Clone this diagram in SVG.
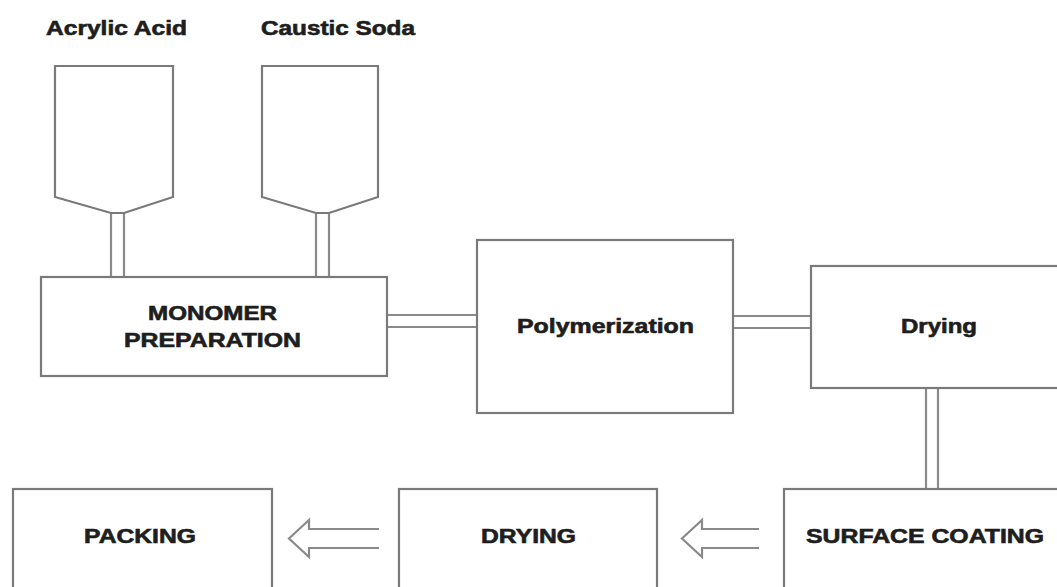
<svg xmlns="http://www.w3.org/2000/svg" width="1057" height="587" viewBox="0 0 1057 587">
<style>
.box{fill:#fff;stroke:#7a7a7a;stroke-width:2.2}
.pipe{fill:none;stroke:#8a8a8a;stroke-width:2.2}
.lbl{font-family:"Liberation Sans",Arial,sans-serif;font-weight:bold;font-size:19.5px;fill:#1e1e1e;stroke:#1e1e1e;stroke-width:0.6}
</style>
<rect width="1057" height="587" fill="#fff"/>
<g id="connectors">
<path class="pipe" d="M111,213 V277 M124,213 V277"/>
<path class="pipe" d="M316,213 V277 M329,213 V277"/>
<path class="pipe" d="M387,315 H477 M387,327 H477"/>
<path class="pipe" d="M733,316 H811 M733,328 H811"/>
<path class="pipe" d="M926,388 V489 M938,388 V489"/>
<path class="pipe" d="M379,529 H309 V520 L289,538.5 L309,557 V548 H379"/>
<path class="pipe" d="M759,529 H702 V520 L682,538.5 L702,557 V548 H759"/>
</g>
<g id="acrylic-acid">
<text class="lbl" x="46" y="35" textLength="141" lengthAdjust="spacingAndGlyphs">Acrylic Acid</text>
<path class="box" d="M55,66 H173 V197 L124,213 H111 L55,197 Z"/>
</g>
<g id="caustic-soda">
<text class="lbl" x="261" y="35" textLength="154" lengthAdjust="spacingAndGlyphs">Caustic Soda</text>
<path class="box" d="M262,66 H378 V197 L329,213 H316 L262,197 Z"/>
</g>
<g id="monomer-preparation">
<rect class="box" x="41" y="277" width="346" height="99"/>
<text class="lbl" x="148" y="320" textLength="129" lengthAdjust="spacingAndGlyphs">MONOMER</text>
<text class="lbl" x="124" y="347" textLength="177" lengthAdjust="spacingAndGlyphs">PREPARATION</text>
</g>
<g id="polymerization">
<rect class="box" x="477" y="240" width="256" height="173"/>
<text class="lbl" x="517" y="333" textLength="177" lengthAdjust="spacingAndGlyphs">Polymerization</text>
</g>
<g id="drying">
<rect class="box" x="811" y="266" width="260" height="122"/>
<text class="lbl" x="901" y="333" textLength="76" lengthAdjust="spacingAndGlyphs">Drying</text>
</g>
<g id="surface-coating">
<rect class="box" x="784" y="489" width="290" height="110"/>
<text class="lbl" x="806" y="543" textLength="238" lengthAdjust="spacingAndGlyphs">SURFACE COATING</text>
</g>
<g id="drying-2">
<rect class="box" x="399" y="489" width="258" height="110"/>
<text class="lbl" x="481" y="543" textLength="95" lengthAdjust="spacingAndGlyphs">DRYING</text>
</g>
<g id="packing">
<rect class="box" x="13" y="489" width="259" height="110"/>
<text class="lbl" x="84" y="543" textLength="112" lengthAdjust="spacingAndGlyphs">PACKING</text>
</g>
</svg>
